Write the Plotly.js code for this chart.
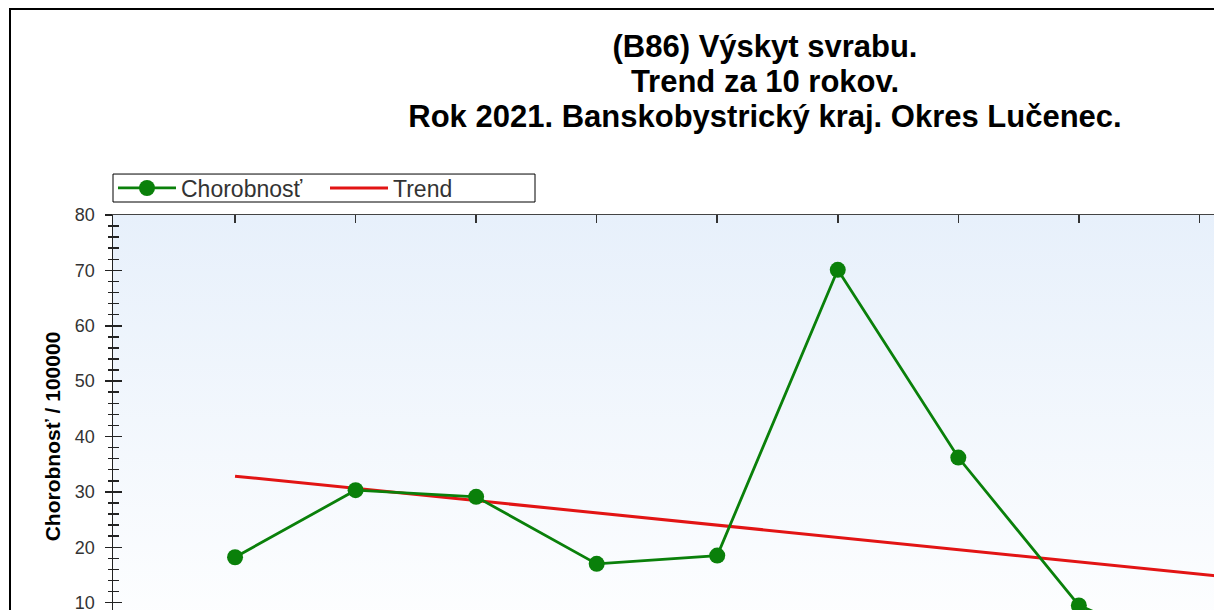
<!DOCTYPE html>
<html>
<head>
<meta charset="utf-8">
<script src="https://cdn.plot.ly/plotly-3.0.1.min.js"></script>
<style>
  html, body { margin:0; padding:0; overflow:hidden; background:#fff; width:1214px; height:610px; }
  #frame { position:absolute; left:9px; top:8px; width:1500px; height:800px;
           border-left:2px solid #000; border-top:2px solid #000; box-sizing:border-box; }
  #bg { position:absolute; left:113px; top:215px; width:1329px; height:444px;
        background:linear-gradient(to bottom, #e7f0fb 0%, #ffffff 100%); }
  #chart { position:absolute; left:0; top:0; }
</style>
</head>
<body>
<div id="frame"></div>
<div id="bg"></div>
<div id="chart"></div>
<script>
// ---- data ----
const years = [2012, 2013, 2014, 2015, 2016, 2017, 2018, 2019, 2020, 2021];
const incidence = [18.2, 30.3, 29.1, 17.0, 18.5, 70.1, 36.2, 9.5, 0, 0];
const yTicks = [10, 20, 30, 40, 50, 60, 70, 80];
const titleLines = ["(B86) Výskyt svrabu.", "Trend za 10 rokov.", "Rok 2021. Banskobystrický kraj. Okres Lučenec."];
const seriesName = "Chorobnosť";
const trendName = "Trend";
const yTitle = "Chorobnosť / 100000";

// linear regression trend over the 10 years
const n = years.length;
const mx = years.reduce((a, b) => a + b, 0) / n;
const my = incidence.reduce((a, b) => a + b, 0) / n;
let sxy = 0, sxx = 0;
for (let i = 0; i < n; i++) { sxy += (years[i] - mx) * (incidence[i] - my); sxx += (years[i] - mx) ** 2; }
const slope = sxy / sxx;
const trend = years.map(x => my + slope * (x - mx));

const W = 1462, H = 728;
const PH = 443.4, PT = 215;
const FONT = "Liberation Sans, Arial, sans-serif";
const xRange = [2010.9875, 2022.0125];
const nulls = years.map(() => null);

const traces = [
  { x: years, y: trend, name: trendName, type: "scatter", mode: "lines",
    line: { color: "#e21414", width: 3 } },
  { x: years, y: incidence, name: seriesName, type: "scatter", mode: "lines+markers",
    line: { color: "#0a800a", width: 2.8 }, marker: { color: "#0a800a", size: 16 }, cliponaxis: false },
  // carriers so that the mirrored top axis and the inner y ticks are drawn
  { x: years, y: nulls, xaxis: "x2", yaxis: "y", showlegend: false, hoverinfo: "skip", mode: "lines" },
  { x: years, y: nulls, xaxis: "x", yaxis: "y2", showlegend: false, hoverinfo: "skip", mode: "lines" }
];

const layout = {
  width: W, height: H,
  margin: { l: 113, r: W - 113 - 1329, t: PT, b: H - PT - PH },
  paper_bgcolor: "rgba(0,0,0,0)", plot_bgcolor: "rgba(0,0,0,0)",
  font: { family: FONT, color: "#333" },
  title: {
    text: titleLines.map(t => '<span style="font-size:31px">' + t + '</span>').join("<br>"),
    font: { family: FONT, size: 27, color: "#000", weight: "bold" },
    xref: "container", yref: "container", x: 765 / W, xanchor: "center", y: 1 - 57 / H, yanchor: "top"
  },
  showlegend: true,
  legend: {
    orientation: "h", x: 0, xanchor: "left", y: 1 + (PT + PH - 188 - PH) / PH + 0, yanchor: "middle",
    bgcolor: "rgba(0,0,0,0)", borderwidth: 0,
    font: { family: FONT, size: 23, color: "#333" },
    itemwidth: 58, traceorder: "reversed", entrywidth: 139
  },
  shapes: [
    { type: "rect", xref: "paper", yref: "paper", layer: "below",
      x0: 0, x1: (535 - 113) / 1329, y0: (PT + PH - 202) / PH, y1: (PT + PH - 174) / PH,
      line: { color: "#000", width: 1 }, fillcolor: "#fff" }
  ],
  xaxis: {
    range: xRange, tickvals: years, ticks: "outside", ticklen: 7, tickcolor: "#333",
    showticklabels: false,
    showline: true, linecolor: "#333", linewidth: 1, showgrid: false, zeroline: false
  },
  xaxis2: {
    overlaying: "x", side: "top", anchor: "y", range: xRange, tickvals: years,
    ticks: "inside", ticklen: 8, tickcolor: "#333", tickwidth: 1.5, showticklabels: false,
    showline: true, linecolor: "#444", linewidth: 1.5, showgrid: false, zeroline: false
  },
  yaxis: {
    range: [0, 80], tickvals: yTicks, ticks: "outside", ticklen: 7, tickcolor: "#222", tickwidth: 1.5,
    minor: { dtick: 2, ticks: "outside", ticklen: 4, tickcolor: "#222", tickwidth: 1.5 },
    showline: true, linecolor: "#222", linewidth: 1.5, showgrid: false, zeroline: false,
    tickfont: { family: FONT, size: 18, color: "#333" }, ticklabelstandoff: 6,
    title: { text: yTitle, font: { family: FONT, size: 21, color: "#000", weight: "bold" }, standoff: 8 }
  },
  yaxis2: {
    overlaying: "y", side: "left", anchor: "x", range: [0, 80], tickvals: yTicks,
    ticks: "inside", ticklen: 9, tickcolor: "#222", tickwidth: 1.5,
    minor: { dtick: 2, ticks: "inside", ticklen: 6, tickcolor: "#222", tickwidth: 1.5 },
    showticklabels: false, showline: false, showgrid: false, zeroline: false
  }
};

Plotly.newPlot("chart", traces, layout, { displayModeBar: false, staticPlot: true });
</script>
</body>
</html>
